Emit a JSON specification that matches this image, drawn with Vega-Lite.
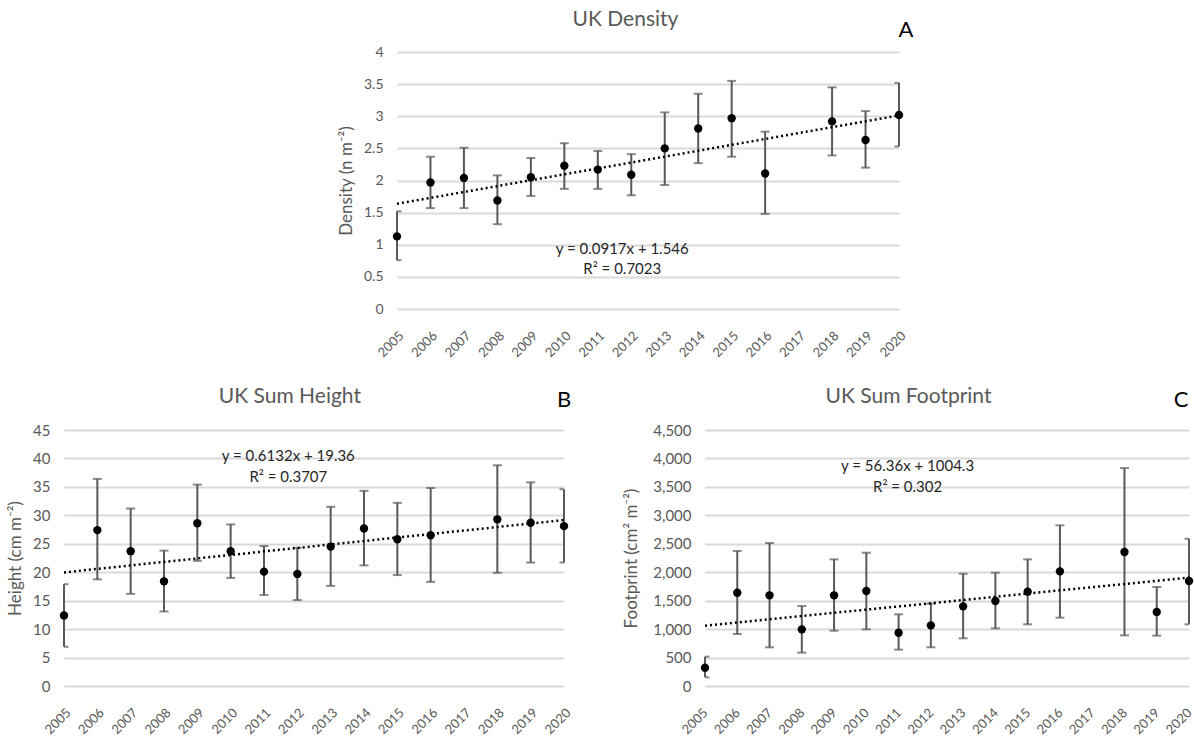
{
  "$schema": "https://vega.github.io/schema/vega-lite/v6.json",
  "padding": {"left": 6, "top": 8, "right": 0, "bottom": 0},
  "background": "white",
  "datasets": {
    "density": [
      {"year": "2005", "mean": 1.13, "lo": 0.76, "hi": 1.52},
      {"year": "2006", "mean": 1.97, "lo": 1.57, "hi": 2.37},
      {"year": "2007", "mean": 2.04, "lo": 1.57, "hi": 2.51},
      {"year": "2008", "mean": 1.69, "lo": 1.32, "hi": 2.08},
      {"year": "2009", "mean": 2.05, "lo": 1.76, "hi": 2.35},
      {"year": "2010", "mean": 2.23, "lo": 1.87, "hi": 2.58},
      {"year": "2011", "mean": 2.17, "lo": 1.87, "hi": 2.46},
      {"year": "2012", "mean": 2.09, "lo": 1.77, "hi": 2.41},
      {"year": "2013", "mean": 2.50, "lo": 1.93, "hi": 3.06},
      {"year": "2014", "mean": 2.81, "lo": 2.27, "hi": 3.35},
      {"year": "2015", "mean": 2.97, "lo": 2.37, "hi": 3.55},
      {"year": "2016", "mean": 2.11, "lo": 1.48, "hi": 2.76},
      {"year": "2018", "mean": 2.92, "lo": 2.39, "hi": 3.45},
      {"year": "2019", "mean": 2.63, "lo": 2.20, "hi": 3.08},
      {"year": "2020", "mean": 3.02, "lo": 2.53, "hi": 3.52}
    ],
    "height": [
      {"year": "2005", "mean": 12.4, "lo": 6.9, "hi": 17.9},
      {"year": "2006", "mean": 27.4, "lo": 18.75, "hi": 36.4},
      {"year": "2007", "mean": 23.7, "lo": 16.2, "hi": 31.2},
      {"year": "2008", "mean": 18.4, "lo": 13.1, "hi": 23.8},
      {"year": "2009", "mean": 28.6, "lo": 22.0, "hi": 35.4},
      {"year": "2010", "mean": 23.7, "lo": 19.0, "hi": 28.4},
      {"year": "2011", "mean": 20.1, "lo": 16.0, "hi": 24.6},
      {"year": "2012", "mean": 19.7, "lo": 15.1, "hi": 24.3},
      {"year": "2013", "mean": 24.5, "lo": 17.6, "hi": 31.5},
      {"year": "2014", "mean": 27.7, "lo": 21.2, "hi": 34.3},
      {"year": "2015", "mean": 25.8, "lo": 19.5, "hi": 32.2},
      {"year": "2016", "mean": 26.5, "lo": 18.3, "hi": 34.8},
      {"year": "2018", "mean": 29.3, "lo": 19.9, "hi": 38.8},
      {"year": "2019", "mean": 28.7, "lo": 21.7, "hi": 35.8},
      {"year": "2020", "mean": 28.1, "lo": 21.7, "hi": 34.6}
    ],
    "footprint": [
      {"year": "2005", "mean": 322, "lo": 152, "hi": 516},
      {"year": "2006", "mean": 1640, "lo": 914, "hi": 2373},
      {"year": "2007", "mean": 1594, "lo": 680, "hi": 2513},
      {"year": "2008", "mean": 996, "lo": 586, "hi": 1406},
      {"year": "2009", "mean": 1594, "lo": 972, "hi": 2226},
      {"year": "2010", "mean": 1670, "lo": 996, "hi": 2343},
      {"year": "2011", "mean": 937, "lo": 639, "hi": 1260},
      {"year": "2012", "mean": 1066, "lo": 680, "hi": 1447},
      {"year": "2013", "mean": 1400, "lo": 838, "hi": 1974},
      {"year": "2014", "mean": 1494, "lo": 1013, "hi": 1992},
      {"year": "2015", "mean": 1658, "lo": 1084, "hi": 2226},
      {"year": "2016", "mean": 2015, "lo": 1201, "hi": 2824},
      {"year": "2018", "mean": 2355, "lo": 890, "hi": 3831},
      {"year": "2019", "mean": 1300, "lo": 885, "hi": 1740},
      {"year": "2020", "mean": 1845, "lo": 1084, "hi": 2589}
    ],
    "densityTrend": [
      {"year": "2005", "fit": 1.638},
      {"year": "2020", "fit": 3.013}
    ],
    "heightTrend": [
      {"year": "2005", "fit": 19.97},
      {"year": "2020", "fit": 29.17}
    ],
    "footprintTrend": [
      {"year": "2005", "fit": 1060.7},
      {"year": "2020", "fit": 1906.1}
    ],
    "densityNotes": [
      {"year": "2012", "v": 0.935, "label": "y = 0.0917x + 1.546"},
      {"year": "2012", "v": 0.62, "label": "R² = 0.7023"}
    ],
    "heightNotes": [
      {"year": "2012", "v": 40.4, "label": "y =  0.6132x + 19.36"},
      {"year": "2012", "v": 36.8, "label": "R² = 0.3707"}
    ],
    "footprintNotes": [
      {"year": "2011", "v": 3873, "label": "y = 56.36x + 1004.3"},
      {"year": "2011", "v": 3503, "label": "R² =  0.302"}
    ],
    "densityLetter": [{"year": "2020", "v": 4.35, "label": "A"}],
    "heightLetter": [{"year": "2020", "v": 50.3, "label": "B"}],
    "footprintLetter": [{"year": "2020", "v": 5027, "label": "C"}]
  },
  "vconcat": [
    {
      "hconcat": [
        {
          "width": 273,
          "height": 257,
          "data": {"values": []},
          "mark": "point",
          "encoding": {}
        },
        {
          "width": 502,
          "height": 257,
          "title": {"text": "UK Density"},
          "encoding": {
            "x": {"field": "year", "type": "ordinal",
              "scale": {"type": "point", "padding": 0, "domain": ["2005","2006","2007","2008","2009","2010","2011","2012","2013","2014","2015","2016","2017","2018","2019","2020"]}}
          },
          "layer": [
            {
              "data": {"name": "density"},
              "mark": {"type": "rule", "color": "#595959", "strokeWidth": 2},
              "encoding": {
                "y": {"field": "lo", "type": "quantitative", "scale": {"domain": [0, 4]},
                  "axis": {"values": [0, 0.5, 1, 1.5, 2, 2.5, 3, 3.5, 4], "format": "~g", "title": "Density (n m⁻²)", "labelFontSize": 14}},
                "y2": {"field": "hi"}
              }
            },
            {
              "data": {"name": "density"},
              "mark": {"type": "tick", "color": "#595959", "thickness": 2, "size": 9, "clip": true},
              "encoding": {"y": {"field": "lo", "type": "quantitative",
                  "axis": {"values": [0, 0.5, 1, 1.5, 2, 2.5, 3, 3.5, 4], "format": "~g", "title": "Density (n m⁻²)", "labelFontSize": 14}}}
            },
            {
              "data": {"name": "density"},
              "mark": {"type": "tick", "color": "#595959", "thickness": 2, "size": 9, "clip": true},
              "encoding": {"y": {"field": "hi", "type": "quantitative",
                  "axis": {"values": [0, 0.5, 1, 1.5, 2, 2.5, 3, 3.5, 4], "format": "~g", "title": "Density (n m⁻²)", "labelFontSize": 14}}}
            },
            {
              "data": {"name": "densityTrend"},
              "mark": {"type": "line", "color": "#000000", "strokeWidth": 2.5, "strokeDash": [2, 3]},
              "encoding": {"y": {"field": "fit", "type": "quantitative",
                  "axis": {"values": [0, 0.5, 1, 1.5, 2, 2.5, 3, 3.5, 4], "format": "~g", "title": "Density (n m⁻²)", "labelFontSize": 14}}}
            },
            {
              "data": {"name": "density"},
              "mark": {"type": "circle", "color": "#000000", "opacity": 1, "size": 70},
              "encoding": {"y": {"field": "mean", "type": "quantitative",
                  "axis": {"values": [0, 0.5, 1, 1.5, 2, 2.5, 3, 3.5, 4], "format": "~g", "title": "Density (n m⁻²)", "labelFontSize": 14}}}
            },
            {
              "data": {"name": "densityNotes"},
              "mark": {"type": "text", "fontSize": 15, "color": "#262626", "dx": -9},
              "encoding": {"y": {"field": "v", "type": "quantitative",
                  "axis": {"values": [0, 0.5, 1, 1.5, 2, 2.5, 3, 3.5, 4], "format": "~g", "title": "Density (n m⁻²)", "labelFontSize": 14}}, "text": {"field": "label"}}
            },
            {
              "data": {"name": "densityLetter"},
              "mark": {"type": "text", "fontSize": 22, "color": "#000000", "dx": 7},
              "encoding": {"y": {"field": "v", "type": "quantitative",
                  "axis": {"values": [0, 0.5, 1, 1.5, 2, 2.5, 3, 3.5, 4], "format": "~g", "title": "Density (n m⁻²)", "labelFontSize": 14}}, "text": {"field": "label"}}
            }
          ]
        }
      ],
      "spacing": 0
    },
    {
      "hconcat": [
        {
          "width": 500,
          "height": 256,
          "title": {"text": "UK Sum Height", "offset": -18},
          "encoding": {
            "x": {"field": "year", "type": "ordinal",
              "scale": {"type": "point", "padding": 0, "domain": ["2005","2006","2007","2008","2009","2010","2011","2012","2013","2014","2015","2016","2017","2018","2019","2020"]}}
          },
          "layer": [
            {
              "data": {"name": "height"},
              "mark": {"type": "rule", "color": "#595959", "strokeWidth": 2},
              "encoding": {
                "y": {"field": "lo", "type": "quantitative", "scale": {"domain": [0, 45]},
                  "axis": {"values": [0, 5, 10, 15, 20, 25, 30, 35, 40, 45], "title": "Height (cm m⁻²)", "labelFontSize": 15}},
                "y2": {"field": "hi"}
              }
            },
            {
              "data": {"name": "height"},
              "mark": {"type": "tick", "color": "#595959", "thickness": 2, "size": 9, "clip": true},
              "encoding": {"y": {"field": "lo", "type": "quantitative",
                  "axis": {"values": [0, 5, 10, 15, 20, 25, 30, 35, 40, 45], "title": "Height (cm m⁻²)", "labelFontSize": 15}}}
            },
            {
              "data": {"name": "height"},
              "mark": {"type": "tick", "color": "#595959", "thickness": 2, "size": 9, "clip": true},
              "encoding": {"y": {"field": "hi", "type": "quantitative",
                  "axis": {"values": [0, 5, 10, 15, 20, 25, 30, 35, 40, 45], "title": "Height (cm m⁻²)", "labelFontSize": 15}}}
            },
            {
              "data": {"name": "heightTrend"},
              "mark": {"type": "line", "color": "#000000", "strokeWidth": 2.5, "strokeDash": [2, 3]},
              "encoding": {"y": {"field": "fit", "type": "quantitative",
                  "axis": {"values": [0, 5, 10, 15, 20, 25, 30, 35, 40, 45], "title": "Height (cm m⁻²)", "labelFontSize": 15}}}
            },
            {
              "data": {"name": "height"},
              "mark": {"type": "circle", "color": "#000000", "opacity": 1, "size": 70},
              "encoding": {"y": {"field": "mean", "type": "quantitative",
                  "axis": {"values": [0, 5, 10, 15, 20, 25, 30, 35, 40, 45], "title": "Height (cm m⁻²)", "labelFontSize": 15}}}
            },
            {
              "data": {"name": "heightNotes"},
              "mark": {"type": "text", "fontSize": 15, "color": "#262626", "dx": -9},
              "encoding": {"y": {"field": "v", "type": "quantitative",
                  "axis": {"values": [0, 5, 10, 15, 20, 25, 30, 35, 40, 45], "title": "Height (cm m⁻²)", "labelFontSize": 15}}, "text": {"field": "label"}}
            },
            {
              "data": {"name": "heightLetter"},
              "mark": {"type": "text", "fontSize": 22, "color": "#000000", "dx": 0},
              "encoding": {"y": {"field": "v", "type": "quantitative",
                  "axis": {"values": [0, 5, 10, 15, 20, 25, 30, 35, 40, 45], "title": "Height (cm m⁻²)", "labelFontSize": 15}}, "text": {"field": "label"}}
            }
          ]
        },
        {
          "width": 484,
          "height": 256,
          "title": {"text": "UK Sum Footprint", "offset": -18},
          "encoding": {
            "x": {"field": "year", "type": "ordinal",
              "scale": {"type": "point", "padding": 0, "domain": ["2005","2006","2007","2008","2009","2010","2011","2012","2013","2014","2015","2016","2017","2018","2019","2020"]},
              "axis": {"labelOffset": -4}}
          },
          "layer": [
            {
              "data": {"name": "footprint"},
              "mark": {"type": "rule", "color": "#595959", "strokeWidth": 2},
              "encoding": {
                "y": {"field": "lo", "type": "quantitative", "scale": {"domain": [0, 4500]},
                  "axis": {"values": [0, 500, 1000, 1500, 2000, 2500, 3000, 3500, 4000, 4500], "format": ",.0f", "title": "Footprint (cm² m⁻²)", "labelFontSize": 15, "titlePadding": 12}},
                "y2": {"field": "hi"}
              }
            },
            {
              "data": {"name": "footprint"},
              "mark": {"type": "tick", "color": "#595959", "thickness": 2, "size": 9, "clip": true},
              "encoding": {"y": {"field": "lo", "type": "quantitative",
                  "axis": {"values": [0, 500, 1000, 1500, 2000, 2500, 3000, 3500, 4000, 4500], "format": ",.0f", "title": "Footprint (cm² m⁻²)", "labelFontSize": 15, "titlePadding": 12}}}
            },
            {
              "data": {"name": "footprint"},
              "mark": {"type": "tick", "color": "#595959", "thickness": 2, "size": 9, "clip": true},
              "encoding": {"y": {"field": "hi", "type": "quantitative",
                  "axis": {"values": [0, 500, 1000, 1500, 2000, 2500, 3000, 3500, 4000, 4500], "format": ",.0f", "title": "Footprint (cm² m⁻²)", "labelFontSize": 15, "titlePadding": 12}}}
            },
            {
              "data": {"name": "footprintTrend"},
              "mark": {"type": "line", "color": "#000000", "strokeWidth": 2.5, "strokeDash": [2, 3]},
              "encoding": {"y": {"field": "fit", "type": "quantitative",
                  "axis": {"values": [0, 500, 1000, 1500, 2000, 2500, 3000, 3500, 4000, 4500], "format": ",.0f", "title": "Footprint (cm² m⁻²)", "labelFontSize": 15, "titlePadding": 12}}}
            },
            {
              "data": {"name": "footprint"},
              "mark": {"type": "circle", "color": "#000000", "opacity": 1, "size": 70},
              "encoding": {"y": {"field": "mean", "type": "quantitative",
                  "axis": {"values": [0, 500, 1000, 1500, 2000, 2500, 3000, 3500, 4000, 4500], "format": ",.0f", "title": "Footprint (cm² m⁻²)", "labelFontSize": 15, "titlePadding": 12}}}
            },
            {
              "data": {"name": "footprintNotes"},
              "mark": {"type": "text", "fontSize": 15, "color": "#262626", "dx": 9},
              "encoding": {"y": {"field": "v", "type": "quantitative",
                  "axis": {"values": [0, 500, 1000, 1500, 2000, 2500, 3000, 3500, 4000, 4500], "format": ",.0f", "title": "Footprint (cm² m⁻²)", "labelFontSize": 15, "titlePadding": 12}}, "text": {"field": "label"}}
            },
            {
              "data": {"name": "footprintLetter"},
              "mark": {"type": "text", "fontSize": 22, "color": "#000000", "dx": -8},
              "encoding": {"y": {"field": "v", "type": "quantitative",
                  "axis": {"values": [0, 500, 1000, 1500, 2000, 2500, 3000, 3500, 4000, 4500], "format": ",.0f", "title": "Footprint (cm² m⁻²)", "labelFontSize": 15, "titlePadding": 12}}, "text": {"field": "label"}}
            }
          ]
        }
      ],
      "spacing": 48
    }
  ],
  "spacing": 25,
  "config": {
    "font": "Lato",
    "view": {"stroke": null},
    "concat": {"spacing": 0},
    "axis": {"labelColor": "#595959", "titleColor": "#595959", "ticks": false, "domain": false, "titleFontWeight": "normal", "labelFont": "Lato", "titleFont": "Lato"},
    "axisX": {"grid": false, "labelAngle": -45, "labelFontSize": 13, "labelPadding": 20, "labelOffset": 0, "title": null},
    "axisY": {"gridColor": "#d9d9d9", "gridWidth": 2, "labelPadding": 14, "titlePadding": 8, "titleFontSize": 17},
    "title": {"fontSize": 21, "fontWeight": "normal", "color": "#595959", "font": "Lato", "offset": -11, "frame": "bounds"}
  }
}
